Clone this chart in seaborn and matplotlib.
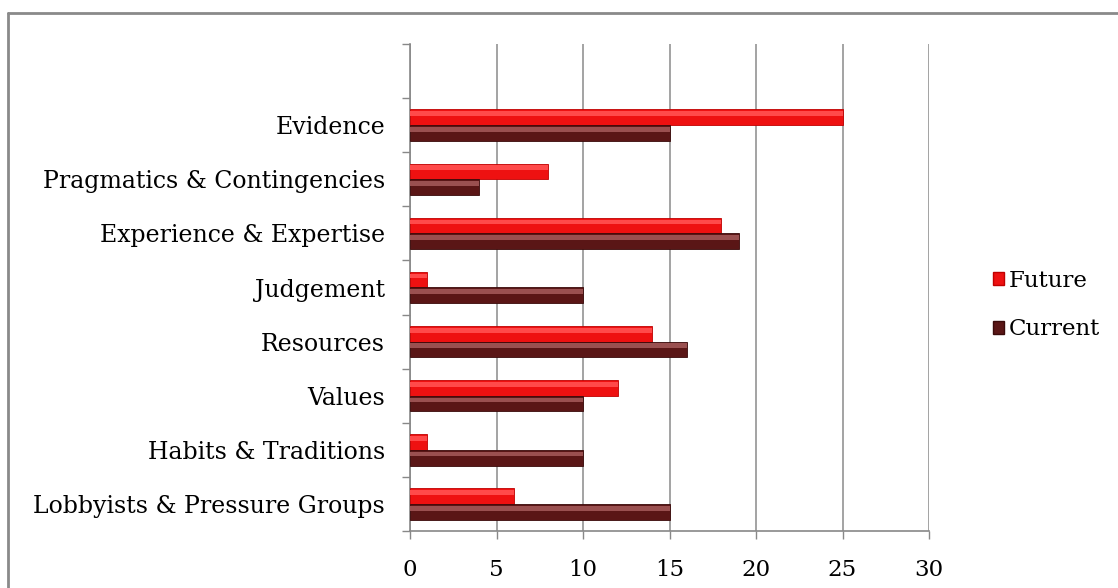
import matplotlib
matplotlib.use("Agg")
import matplotlib.pyplot as plt
import seaborn as sns
import pandas as pd
import numpy as np
from matplotlib.lines import Line2D
from matplotlib.patches import Rectangle

categories = ["", "Evidence", "Pragmatics & Contingencies", "Experience & Expertise",
              "Judgement", "Resources", "Values", "Habits & Traditions",
              "Lobbyists & Pressure Groups"]
future = [np.nan, 25, 8, 18, 1, 14, 12, 1, 6]
current = [np.nan, 15, 4, 19, 10, 16, 10, 10, 15]
series = ["Future", "Current"]
xticks = [0, 5, 10, 15, 20, 25, 30]

df = pd.DataFrame({
    "category": categories * 2,
    "value": future + current,
    "series": ["Future"] * len(categories) + ["Current"] * len(categories),
})

sns.set_theme(style="white")
plt.rcParams["font.family"] = ["DejaVu Serif"]
plt.rcParams["text.color"] = "black"
plt.rcParams["xtick.color"] = "black"
plt.rcParams["ytick.color"] = "black"

fig = plt.figure(figsize=(11.18, 5.88), dpi=100)
ax = fig.add_axes([410 / 1118, 1 - 531 / 588, (929 - 410) / 1118, (531 - 44) / 588])

palette = {"Future": "#EE1111", "Current": "#5A1616"}
sns.barplot(data=df, y="category", x="value", hue="series", hue_order=series,
            order=categories, orient="h", palette=palette, width=0.58,
            saturation=1, ax=ax, legend=False, zorder=3)

# bevel-like highlight on each bar
hl = {"Future": "#FF4A4A", "Current": "#9A5050"}
edge = {"Future": "#C00000", "Current": "#3A0A0A"}
for cont, name in zip(ax.containers, series):
    for p in cont:
        w = p.get_width()
        if not np.isfinite(w) or w <= 0:
            continue
        x0, y0, h = p.get_x(), p.get_y(), p.get_height()
        p.set_edgecolor(edge[name])
        p.set_linewidth(0.6)
        ax.add_patch(Rectangle((x0, y0 + h * 0.12), w, h * 0.3,
                               facecolor=hl[name], edgecolor="none", zorder=4))

ax.set_xlim(0, 30)
ax.set_ylim(len(categories) - 0.5, -0.5)
ax.set_xticks(xticks)
ax.set_xticklabels([str(t) for t in xticks], fontsize=16.5)
ax.set_yticks(range(len(categories)))
ax.set_yticklabels(categories, fontsize=17)
ax.set_yticks(np.arange(-0.5, len(categories), 1), minor=True)
ax.tick_params(axis="y", which="major", length=0, pad=18, labelcolor="black")
ax.tick_params(axis="y", which="minor", length=6, width=1, color="#888888", left=True)
ax.tick_params(axis="x", which="major", length=6, width=1, color="#888888", bottom=True,
               pad=14, labelcolor="black")
ax.set_xlabel("")
ax.set_ylabel("")

ax.grid(axis="x", color="#939393", linewidth=1.2, zorder=0)
ax.grid(axis="y", visible=False)
for s in ["top", "right"]:
    ax.spines[s].set_visible(False)
for s in ["left", "bottom"]:
    ax.spines[s].set_color("#888888")
    ax.spines[s].set_linewidth(1.2)
ax.set_axisbelow(True)

handles = [Rectangle((0, 0), 1, 1, facecolor=palette[s], edgecolor=edge[s]) for s in series]
leg = fig.legend(handles, series, loc="center left",
                 bbox_to_anchor=(972 / 1118, 1 - 305 / 588), frameon=False,
                 fontsize=16.5, handlelength=0.5, handleheight=0.5, handletextpad=0.2,
                 labelspacing=1.15)
for t in leg.get_texts():
    t.set_color("black")

# figure border (left and top visible)
fig.add_artist(Line2D([8 / 1118, 8 / 1118], [0, 1 - 13 / 588], color="#8A8A8A",
                      linewidth=2, transform=fig.transFigure))
fig.add_artist(Line2D([8 / 1118, 1], [1 - 13 / 588, 1 - 13 / 588], color="#8A8A8A",
                      linewidth=2, transform=fig.transFigure))

fig.savefig("out.png", dpi=100)
